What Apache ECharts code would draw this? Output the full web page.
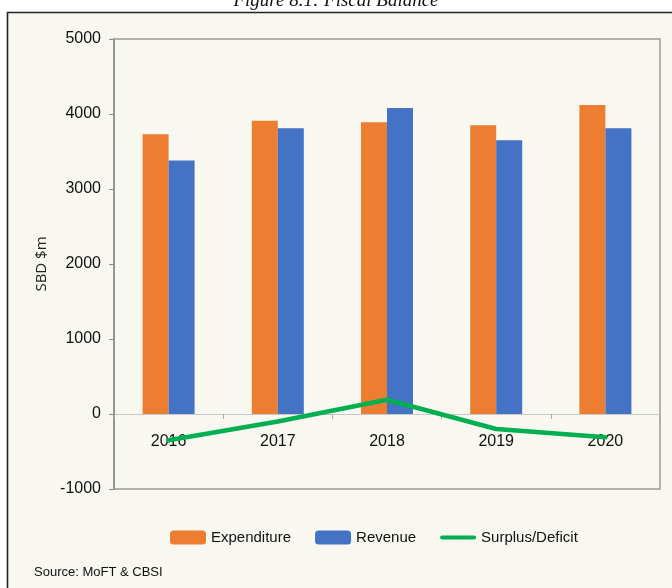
<!DOCTYPE html>
<html>
<head>
<meta charset="utf-8">
<title>Fiscal Balance</title>
<script src="https://cdn.jsdelivr.net/npm/echarts@6/dist/echarts.min.js"></script>
<style>
  html, body { margin: 0; padding: 0; background: #ffffff; }
  #chart { width: 672px; height: 588px; }
</style>
</head>
<body>
<div id="chart"></div>
<script>
// data (SBD $m)
var years = ['2016', '2017', '2018', '2019', '2020'];
var expenditure = [3730, 3910, 3890, 3850, 4120];
var revenue = [3380, 3810, 4080, 3650, 3810];
var surplus = [-350, -100, 190, -200, -310];
var yTicks = { min: -1000, max: 5000, step: 1000 };

var sans = '"Liberation Sans", Arial, sans-serif';

var chart = echarts.init(document.getElementById('chart'), null, { renderer: 'canvas' });

var option = {
  backgroundColor: '#ffffff',
  animation: false,
  color: ['#ed7d31', '#4472c4', '#00b050'],
  graphic: [
    // outer frame of the figure box
    {
      type: 'rect',
      z: -10,
      shape: { x: 7.5, y: 12.5, width: 720, height: 620 },
      style: { fill: '#f8f7f0', stroke: '#222222', lineWidth: 1.6 }
    },
    // caption, cut off by the top edge
    {
      type: 'text',
      left: 'center',
      top: -9,
      style: {
        text: 'Figure 8.1: Fiscal Balance',
        font: 'italic 19px "Liberation Serif", serif',
        fill: '#111111'
      }
    },
    {
      type: 'text',
      left: 34,
      top: 566,
      style: {
        text: 'Source: MoFT & CBSI',
        font: '13px ' + sans,
        fill: '#111111'
      }
    }
  ],
  legend: {
    left: 165,
    top: 525,
    itemWidth: 36,
    itemHeight: 14,
    itemGap: 24,
    textStyle: { fontFamily: sans, fontSize: 15, color: '#111111' },
    data: [
      'Expenditure',
      'Revenue',
      // plain line, no marker
      { name: 'Surplus/Deficit', icon: 'path://M2,0 L36,0 A2,2 0 0 1 36,4 L2,4 A2,2 0 0 1 2,0 Z' }
    ]
  },
  grid: {
    left: 114,
    right: 12,
    top: 39,
    bottom: 99,
    show: true,
    borderColor: '#9a9a9a',
    borderWidth: 1.5,
    backgroundColor: 'transparent'
  },
  xAxis: {
    type: 'category',
    data: years,
    axisLine: { onZero: true, lineStyle: { color: '#c8c8c8', width: 1.2 } },
    axisTick: { show: true, length: 5, lineStyle: { color: '#a8a8a8' } },
    // labels sit just under the zero line, not at the bottom of the grid
    axisLabel: { fontFamily: sans, fontSize: 16, color: '#111111', margin: -55 }
  },
  yAxis: {
    type: 'value',
    min: yTicks.min,
    max: yTicks.max,
    interval: yTicks.step,
    name: 'SBD $m',
    nameLocation: 'middle',
    nameGap: 48,
    nameTextStyle: { fontFamily: '"Open Sans", sans-serif', fontSize: 15, color: '#222222' },
    axisLine: { show: true, lineStyle: { color: '#8c8c8c', width: 1.5 } },
    axisTick: { show: true, length: 5, lineStyle: { color: '#8c8c8c' } },
    splitLine: { show: false },
    axisLabel: {
      fontFamily: sans,
      fontSize: 16,
      color: '#111111',
      margin: 13,
      formatter: function (v) { return String(v); }
    }
  },
  series: [
    {
      name: 'Expenditure',
      type: 'bar',
      barWidth: 26,
      barGap: '0%',
      data: expenditure
    },
    {
      name: 'Revenue',
      type: 'bar',
      barWidth: 26,
      data: revenue
    },
    {
      name: 'Surplus/Deficit',
      type: 'line',
      symbol: 'none',
      z: 5,
      lineStyle: { width: 4.5, color: '#00b050', cap: 'round', join: 'round' },
      data: surplus
    }
  ]
};

chart.setOption(option);
</script>
</body>
</html>
